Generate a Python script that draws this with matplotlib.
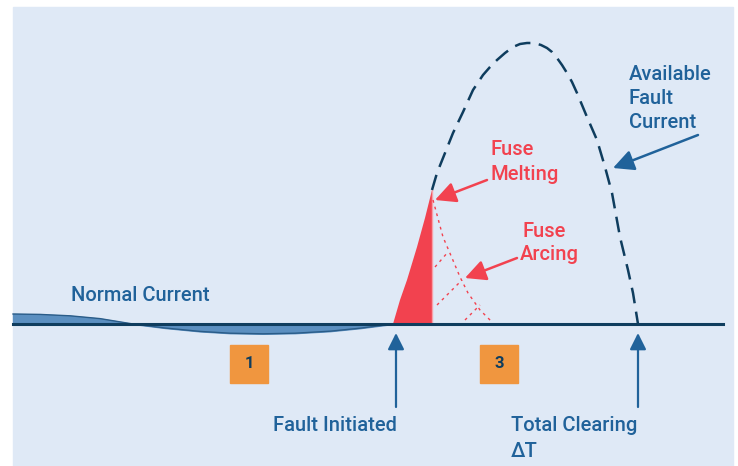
import numpy as np
import matplotlib
matplotlib.use("Agg")
import matplotlib.pyplot as plt
from matplotlib.patches import Rectangle, FancyArrowPatch

plt.rcParams['font.family'] = ['Roboto', 'DejaVu Sans']

# all coordinates are in picture pixels (y grows downward)
BASE_Y = 324

# normal load current, offset from the baseline (positive = above)
normal_x = [13, 40, 70, 100, 133, 165, 200, 230, 263, 295, 330, 360, 393]
normal_i = [10, 9.6, 8.2, 5.4, 0, -4, -7.4, -9.2, -9.8, -9.2, -7.2, -4.2, 0]

# available fault current (dashed)
fault_x = [393, 400, 407, 417, 425, 432, 437, 445, 453, 463, 473, 483, 490, 497,
           505, 513, 520, 527, 534, 541, 547, 552, 557, 562, 567, 572, 577, 587,
           597, 605, 612, 620, 628, 633, 638]
fault_y = [324, 300, 280, 247, 218, 190, 173, 153, 133, 112, 90, 75, 67, 60,
           53, 47, 44, 43, 43, 45, 48, 52, 58, 65, 73, 82, 93, 117,
           140, 167, 193, 237, 270, 293, 324]

# let-through up to fuse melting
melt_x = 432

# dotted arcing lines
arc_main_x = [433, 443, 452, 460, 468, 480, 492]
arc_main_y = [200, 237, 258, 277, 293, 310, 322]
arc_legs = [([435, 448], [267, 252]),
            ([437, 462], [305, 280]),
            ([465, 480], [320, 305])]

boxes = [("1", 230), ("3", 480)]

NAVY = '#0f3d5e'
BLUE = '#20629a'
RED = '#f2424f'
PANEL = '#dfe9f6'

fig = plt.figure(figsize=(7.38, 4.66), dpi=100)
ax = fig.add_axes([0, 0, 1, 1])
ax.set_xlim(0, 738)
ax.set_ylim(466, 0)
ax.axis('off')

ax.add_patch(Rectangle((13, 7), 720, 470, color=PANEL, zorder=0))

# normal current wave
nx = np.array(normal_x)
ny = BASE_Y - np.array(normal_i)
ax.fill_between(nx, ny, BASE_Y, color='#5b8fc0', zorder=2)
ax.plot(nx, ny, color='#2a5c88', lw=1.0, zorder=3)

# red melting region
fx = np.array(fault_x)
fy = np.array(fault_y)
m = fx <= melt_x
poly_x = list(fx[m]) + [melt_x]
poly_y = list(fy[m]) + [BASE_Y]
ax.fill(poly_x, poly_y, color=RED, zorder=3, lw=0)
ax.plot([melt_x, melt_x], [fy[fx == melt_x][0], BASE_Y], color='#f7a0a8', lw=1, zorder=3)

# available fault current dashed
d = fx >= melt_x
ax.plot(fx[d], fy[d], color=NAVY, lw=1.8, dashes=(6.3, 3.4), zorder=4,
        solid_joinstyle='round')

# arcing dotted lines
ax.plot(arc_main_x, arc_main_y, color=RED, lw=1, ls=(0, (2, 3)), zorder=3)
for lx, ly in arc_legs:
    ax.plot(lx, ly, color=RED, lw=1, ls=(0, (2, 3)), zorder=3)

# baseline
ax.plot([13, 723], [BASE_Y, BASE_Y], color=NAVY, lw=2.2, zorder=5)


def arrow(x0, y0, x1, y1, color, lw=1.8, scale=14):
    ax.add_patch(FancyArrowPatch((x0, y0), (x1, y1), arrowstyle='-|>,head_length=0.9,head_width=0.45',
                                 mutation_scale=scale, color=color, lw=lw, zorder=6,
                                 shrinkA=0, shrinkB=0))


arrow(487, 180, 435, 200, RED)
arrow(517, 258, 465, 278, RED)
arrow(698, 135, 613, 168, BLUE)
arrow(396, 407, 396, 333, BLUE, lw=1.6, scale=11)
arrow(638, 407, 638, 333, BLUE, lw=1.6, scale=11)

fs = 14.5
fw = 'medium'


def label(x, y, s, color, ha='left'):
    ax.text(x, y, s, color=color, fontsize=fs, fontweight=fw, va='baseline', ha=ha)


label(71, 301, "Normal Current", BLUE)
label(397, 431, "Fault Initiated", BLUE, ha='right')
label(511, 431, "Total Clearing", BLUE)
label(511, 457, "ΔT", BLUE)
for s, yb in zip(["Available", "Fault", "Current"], [80, 104, 128]):
    label(629, yb, s, BLUE)
for s, yb in zip(["Fuse", "Melting"], [155, 180]):
    label(490, yb, s, RED)
label(522, 237, "Fuse", RED)
label(520, 260, "Arcing", RED)

for num, bx in boxes:
    ax.add_patch(Rectangle((bx, 345), 38, 38, color='#f0963f', zorder=5))
    ax.text(bx + 19, 364, num, color=NAVY, fontsize=12, fontweight='bold',
            ha='center', va='center', zorder=6)

fig.savefig("out.png", dpi=100)
